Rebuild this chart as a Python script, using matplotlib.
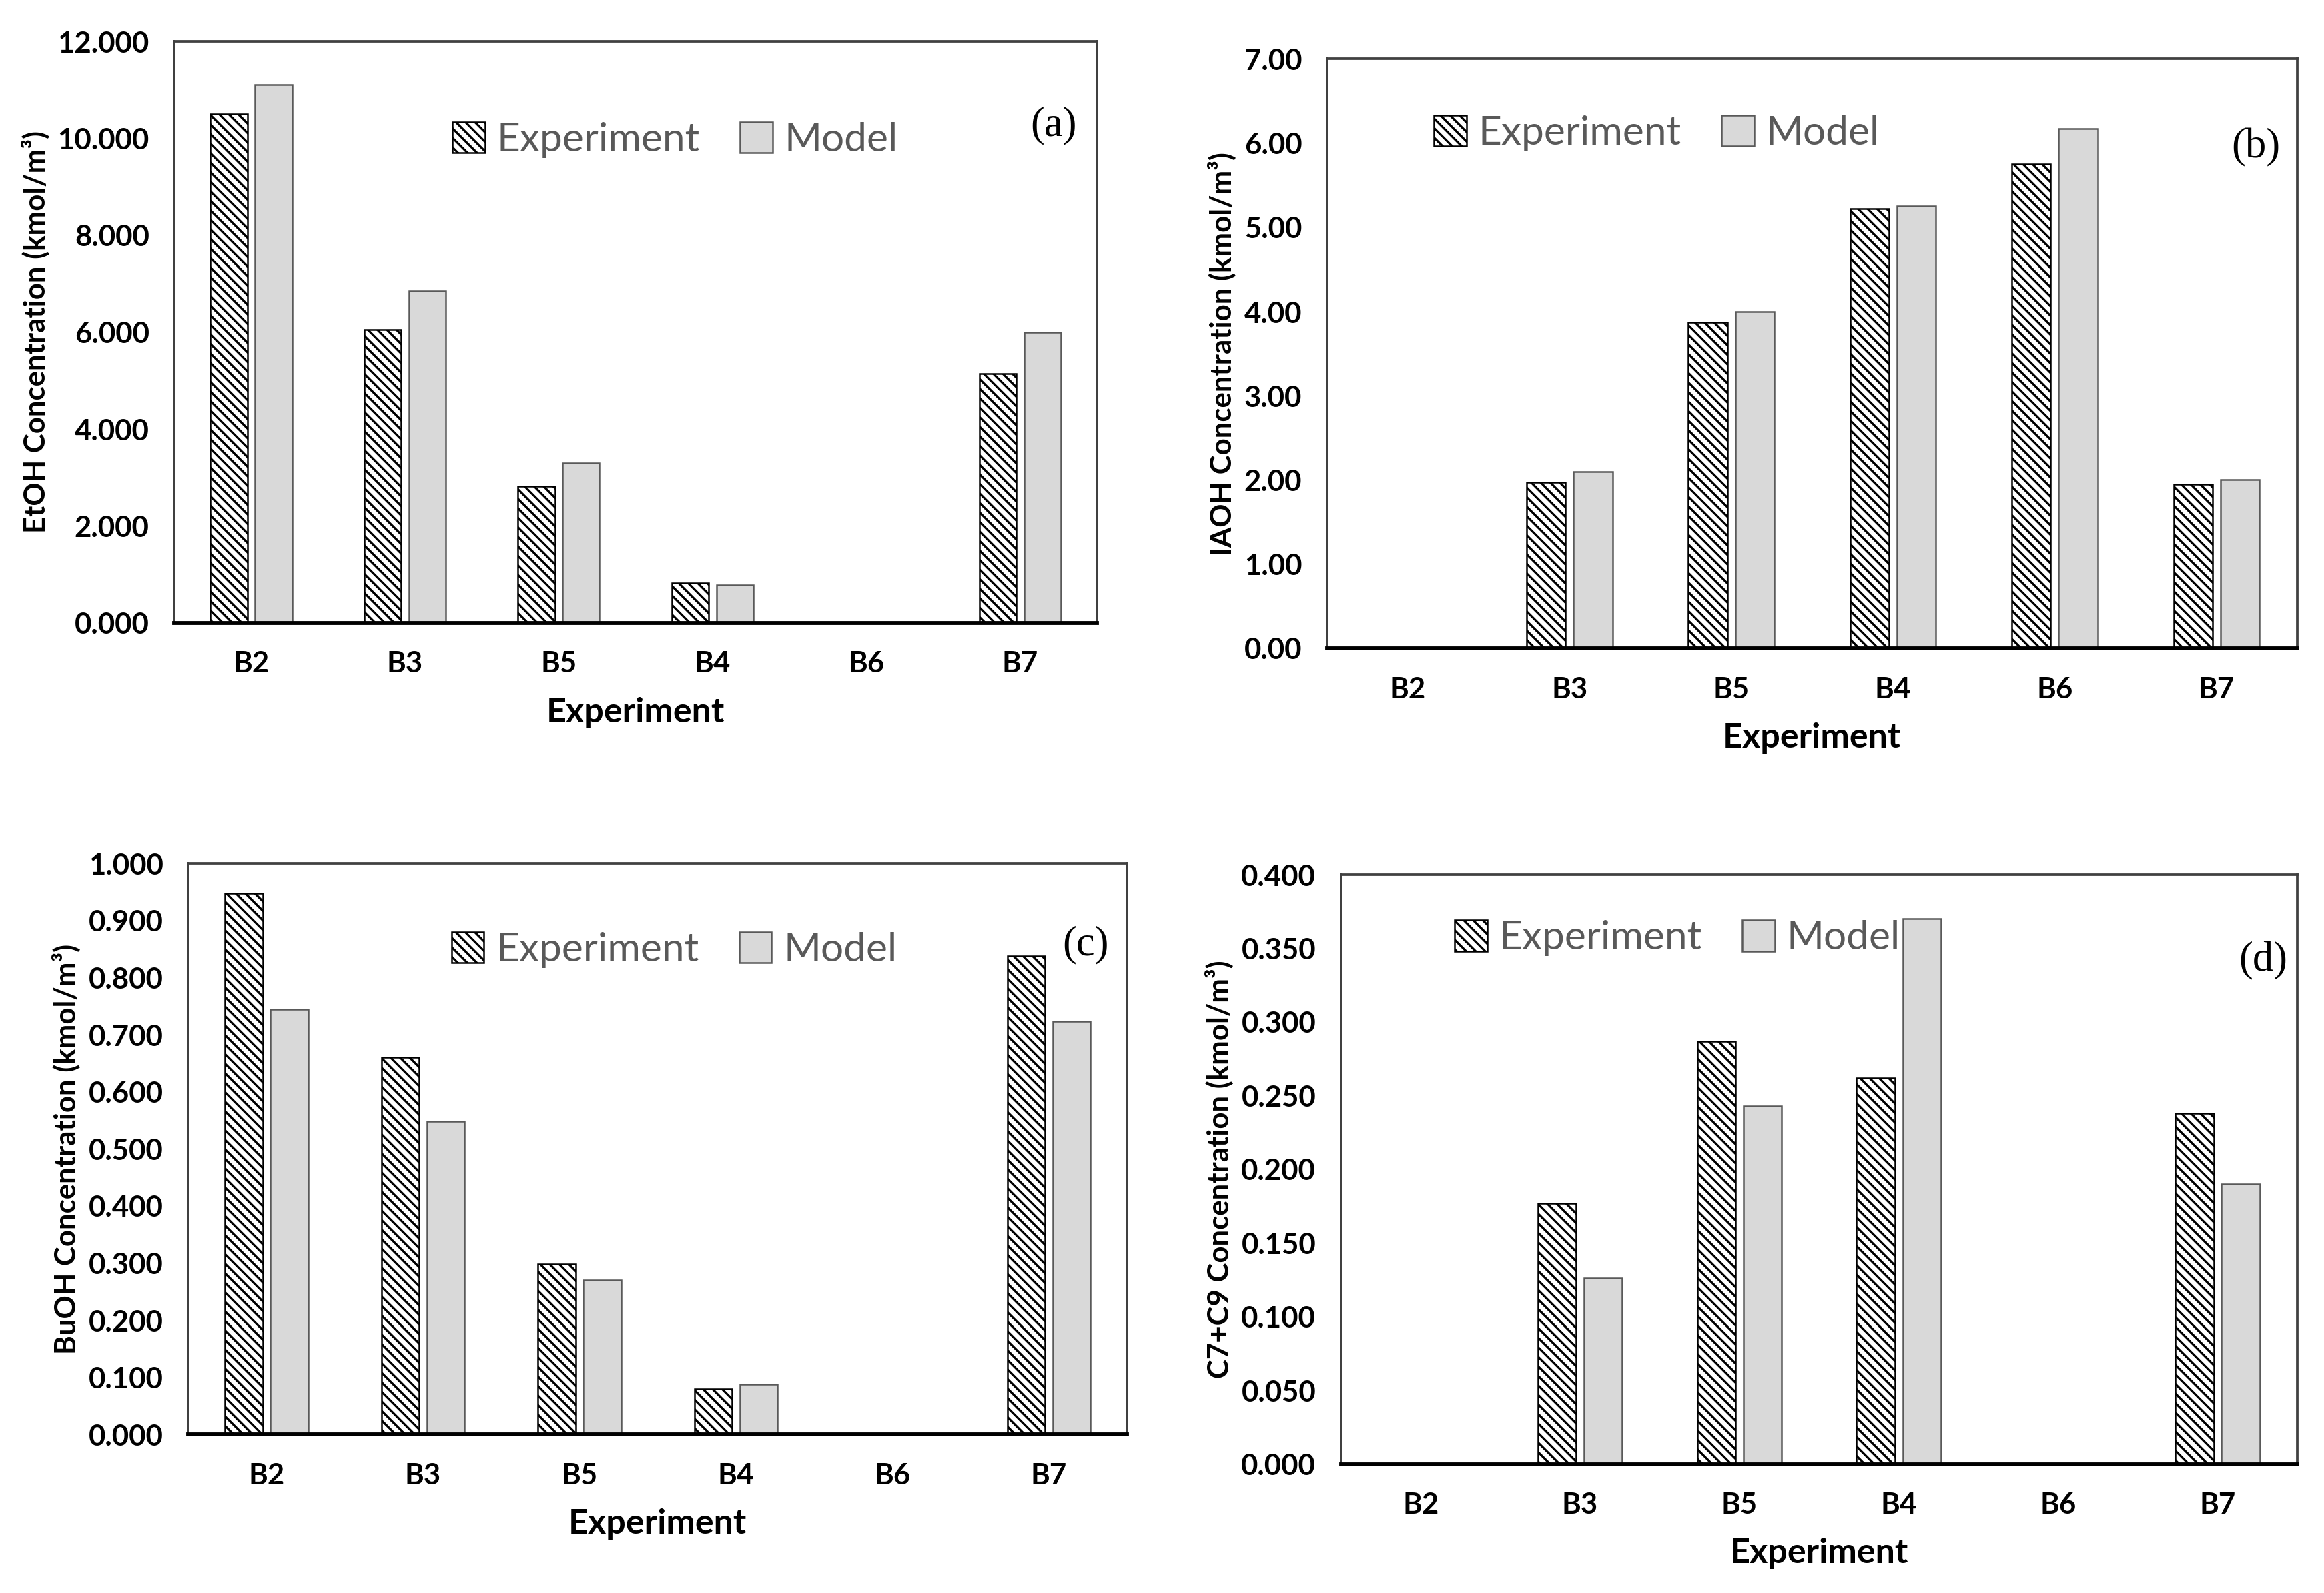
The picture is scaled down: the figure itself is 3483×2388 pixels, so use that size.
import matplotlib.pyplot as plt
import numpy as np

# categories (in the order they appear on the x axis)
experiments = ['B2', 'B3', 'B5', 'B4', 'B6', 'B7']

# (a) EtOH
etoh_exp = [10.50, 6.05, 2.82, 0.82, 0.0, 5.15]
etoh_model = [11.10, 6.85, 3.30, 0.78, 0.0, 6.00]
# (b) IAOH
iaoh_exp = [0.0, 1.97, 3.87, 5.22, 5.75, 1.95]
iaoh_model = [0.0, 2.10, 4.00, 5.25, 6.17, 2.00]
# (c) BuOH
buoh_exp = [0.948, 0.660, 0.298, 0.080, 0.0, 0.838]
buoh_model = [0.745, 0.548, 0.270, 0.088, 0.0, 0.723]
# (d) C7+C9
c79_exp = [0.0, 0.177, 0.287, 0.262, 0.0, 0.238]
c79_model = [0.0, 0.126, 0.243, 0.370, 0.0, 0.190]

plt.rcParams['font.family'] = ['Lato', 'DejaVu Sans']
plt.rcParams['hatch.linewidth'] = 0.8
plt.rcParams['hatch.color'] = 'black'

fig = plt.figure(figsize=(3483 / 300, 2388 / 300), dpi=300)

panels = [
    # rect, exp, model, ylabel, ymax, ystep, fmt, legend pos, label pos, tag
    ([0.075, 0.609, 0.397, 0.365], etoh_exp, etoh_model,
     'EtOH Concentration (kmol/m³)', 12, 2, '{:.3f}', (0.543, 0.83), (0.953, 0.855), '(a)'),
    ([0.571, 0.593, 0.4175, 0.370], iaoh_exp, iaoh_model,
     'IAOH Concentration (kmol/m³)', 7, 1, '{:.2f}', (0.34, 0.874), (0.957, 0.849), '(b)'),
    ([0.081, 0.0995, 0.404, 0.3585], buoh_exp, buoh_model,
     'BuOH Concentration (kmol/m³)', 1.0, 0.1, '{:.3f}', (0.518, 0.849), (0.956, 0.857), '(c)'),
    ([0.577, 0.081, 0.4115, 0.370], c79_exp, c79_model,
     'C7+C9 Concentration (kmol/m³)', 0.4, 0.05, '{:.3f}', (0.352, 0.892), (0.964, 0.854), '(d)'),
]

x = np.arange(len(experiments))
w = 0.24
off = 0.145

for rect, exp, mod, ylab, ymax, ystep, fmt, legpos, labpos, tag in panels:
    ax = fig.add_axes(rect)
    ax.bar(x - off, exp, w, color='white', edgecolor='black', hatch='\\' * 7,
           linewidth=0.6, label='Experiment')
    ax.bar(x + off, mod, w, color='#d9d9d9', edgecolor='#595959',
           linewidth=0.6, label='Model')

    ax.set_xlim(-0.5, len(experiments) - 0.5)
    ax.set_ylim(0, ymax)
    yt = np.arange(0, ymax + ystep / 2, ystep)
    ax.set_yticks(yt)
    ax.set_yticklabels([fmt.format(v) for v in yt], fontweight='bold', fontsize=10.5)
    ax.set_xticks(x)
    ax.set_xticklabels(experiments, fontweight='bold', fontsize=10.5)
    ax.tick_params(axis='both', length=0)
    ax.tick_params(axis='x', pad=10)
    ax.tick_params(axis='y', pad=9)

    for s in ax.spines.values():
        s.set_color('#404040')
        s.set_linewidth(0.9)
    ax.spines['bottom'].set_color('black')
    ax.spines['bottom'].set_linewidth(1.4)

    ax.set_xlabel('Experiment', fontweight='bold', fontsize=12.5, labelpad=7)
    ax.set_ylabel(ylab, fontweight='bold', fontsize=10.5, labelpad=3)

    leg = ax.legend(loc='center', bbox_to_anchor=legpos, ncol=2, frameon=False,
                    fontsize=14.5, handlelength=0.8, handleheight=0.8,
                    handletextpad=0.3, columnspacing=1.0)
    for t in leg.get_texts():
        t.set_color('#595959')

    ax.text(labpos[0], labpos[1], tag, transform=ax.transAxes, ha='center', va='center',
            fontsize=15, family='Liberation Serif')

fig.savefig('out.png', dpi=300)
